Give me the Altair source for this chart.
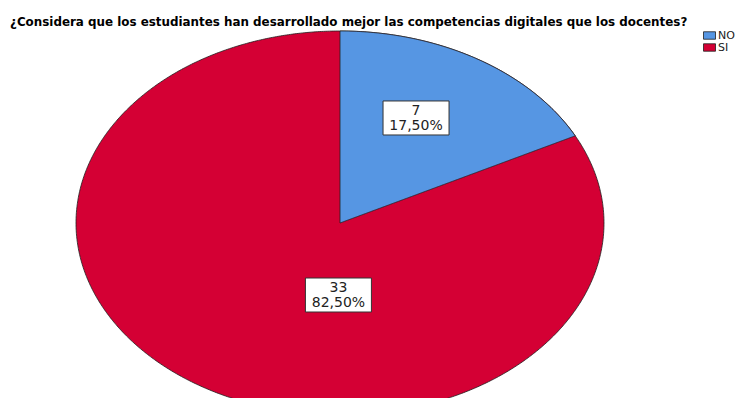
import altair as alt
import pandas as pd
import math

# ---- data ----
categories = ["NO", "SI"]
counts = [7, 33]
pct_labels = ["17,50%", "82,50%"]
colors = ["#5696E3", "#D40034"]

title_text = "¿Considera que los estudiantes han desarrollado mejor las competencias digitales que los docentes?"

# ---- layout / style constants (normalised pie units) ----
label_x = [0.288, -0.006]
label_y = [0.547, -0.375]

total = sum(counts)
share_no = counts[0] / total
theta_end = math.pi / 2 - 2 * math.pi * share_no  # end angle of the NO slice (from 12 o'clock, clockwise)

xs = alt.Scale(domain=[-332 / 264, 396 / 264], nice=False, zero=False)
ys = alt.Scale(domain=[(195 - 370) / 192, 195 / 192], nice=False, zero=False)

outline = "#1e1e1e"

color_enc = alt.Color(
    "cat:N",
    scale=alt.Scale(domain=categories, range=colors),
    legend=alt.Legend(
        title=None,
        orient="none",
        legendX=695,
        legendY=1,
        symbolType="M-1,-0.62H1V0.62H-1Z",
        symbolSize=144,
        symbolStrokeColor=outline,
        symbolStrokeWidth=0.8,
        symbolOpacity=1,
        labelFont="DejaVu Sans",
        labelFontSize=11,
        labelColor="#222222",
        labelOffset=2,
        rowPadding=-3,
        padding=0,
    ),
)

# Full ellipse (SI) drawn first
ellipse = (
    alt.Chart(alt.sequence(0, 1.00001, 0.0025, as_="u"))
    .transform_calculate(
        t="PI * datum.u",
        x="cos(datum.t)",
        y="sin(datum.t)",
        y2="-sin(datum.t)",
        cat="'SI'",
    )
    .mark_area(stroke=outline, strokeWidth=0.8, clip=True, opacity=1)
    .encode(
        x=alt.X("x:Q", scale=xs, axis=None),
        y=alt.Y("y:Q", scale=ys, axis=None),
        y2="y2:Q",
        color=color_enc,
    )
)

# NO wedge on top
wedge = (
    alt.Chart(alt.sequence(0, 1.00001, 0.0025, as_="u"))
    .transform_calculate(
        x=f"datum.u * cos({theta_end})",
        y="sqrt(max(0, 1 - datum.x * datum.x))",
        y2=f"datum.x * tan({theta_end})",
        cat="'NO'",
    )
    .mark_area(stroke=outline, strokeWidth=0.8, clip=True, opacity=1)
    .encode(
        x=alt.X("x:Q", scale=xs, axis=None),
        y=alt.Y("y:Q", scale=ys, axis=None),
        y2="y2:Q",
        color=color_enc,
    )
)

labels_df = pd.DataFrame(
    {"cat": categories, "count": counts, "pct": pct_labels, "lx": label_x, "ly": label_y}
)

boxes = (
    alt.Chart(labels_df)
    .mark_rect(
        fill="white",
        stroke="#333333",
        strokeWidth=1,
        xOffset=-33,
        x2Offset=33,
        yOffset=-17,
        y2Offset=17,
    )
    .encode(
        x=alt.X("lx:Q", scale=xs, axis=None),
        x2="lx:Q",
        y=alt.Y("ly:Q", scale=ys, axis=None),
        y2="ly:Q",
    )
)

texts = (
    alt.Chart(labels_df)
    .transform_calculate(lab="[datum.count + '', datum.pct]")
    .mark_text(
        font="DejaVu Sans",
        fontSize=14,
        lineHeight=15,
        align="center",
        baseline="middle",
        dy=-7,
        color="#222222",
    )
    .encode(
        x=alt.X("lx:Q", scale=xs, axis=None),
        y=alt.Y("ly:Q", scale=ys, axis=None),
        text="lab:N",
    )
)

chart = (
    alt.layer(ellipse, wedge, boxes, texts)
    .properties(
        width=728,
        height=370,
        title=alt.TitleParams(
            title_text,
            anchor="start",
            font="DejaVu Sans",
            fontSize=11.9,
            fontWeight="bold",
            color="black",
            baseline="alphabetic",
            offset=0,
            dx=2,
            dy=10,
        ),
        autosize=alt.AutoSizeParams(type="none"),
        padding={"left": 0, "top": 20, "right": 0, "bottom": 0},
    )
    .configure_view(stroke=None)
)

chart.save("out.html", embed_options={"renderer": "svg", "actions": False})
